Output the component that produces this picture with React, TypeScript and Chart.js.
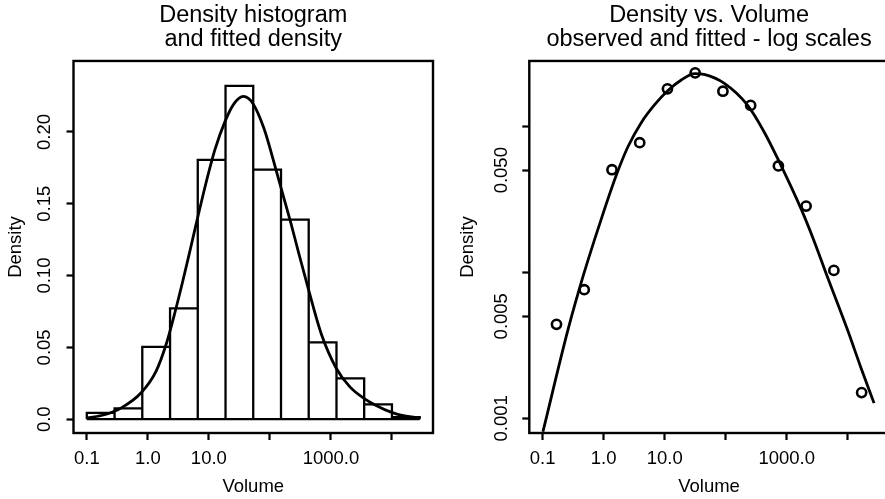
import React, { useEffect, useRef } from "react";
import { Chart, registerables } from "chart.js";

Chart.register(...registerables);

// ---- data (x positions are log10(Volume)) ----
const binEdgesLog10 = [-1, -0.545, -0.091, 0.364, 0.818, 1.273, 1.727, 2.182, 2.636, 3.091, 3.545, 4.0, 4.455];
const observedDensity = [0.0044, 0.0076, 0.0504, 0.0772, 0.1805, 0.232, 0.1738, 0.139, 0.0535, 0.0284, 0.0103, 0.0015];

const fitLeftLog10 = [-1.0, -0.71, -0.434, -0.11, 0.136, 0.303, 0.439, 0.569, 0.697, 0.82, 0.959, 1.098, 1.267, 1.41, 1.566, 1.726, 1.902, 2.098, 2.344, 2.467, 2.631, 2.841, 3.087, 3.311, 3.541, 3.716, 4.005, 4.23, 4.454];
const fitLeftDensity = [0.0009, 0.0031, 0.0079, 0.0184, 0.0335, 0.0525, 0.0735, 0.0955, 0.1185, 0.141, 0.1655, 0.1875, 0.2075, 0.2195, 0.2247, 0.2195, 0.2025, 0.174, 0.1365, 0.1165, 0.0905, 0.0595, 0.0355, 0.0225, 0.0145, 0.0101, 0.0046, 0.0021, 0.0009];

const fitRightLog10 = [-0.995, -0.585, -0.339, -0.148, 0.016, 0.207, 0.398, 0.616, 0.836, 1.054, 1.272, 1.492, 1.644, 1.972, 2.354, 2.628, 2.874, 3.23, 3.434, 3.666, 3.993, 4.213, 4.431];
const fitRightDensity = [0.000809, 0.00403, 0.00933, 0.0168, 0.0272, 0.0462, 0.0724, 0.1059, 0.1406, 0.1758, 0.2075, 0.2291, 0.2265, 0.1972, 0.14, 0.0918, 0.0575, 0.0275, 0.017, 0.00933, 0.00407, 0.00224, 0.00127];

const xTickLog10 = [-1, 0, 1, 2, 3, 4];
const xTickLabels = ["0.1", "1.0", "10.0", "", "1000.0", ""];
const leftYTicks = [0, 0.05, 0.1, 0.15, 0.2];
const leftYTickLabels = ["0.0", "0.05", "0.10", "0.15", "0.20"];
const rightYTicks = [0.001, 0.005, 0.01, 0.05, 0.1];
const rightYTickLabels = ["0.001", "0.005", "", "0.050", ""];

const leftTitle = ["Density histogram", "and fitted density"];
const rightTitle = ["Density vs. Volume", "observed and fitted - log scales"];
const xAxisTitle = "Volume";
const yAxisTitle = "Density";

const X_MIN = -1.2182;
const X_MAX = 4.6727;

const FAMILY = "'Liberation Sans', Arial, Helvetica, sans-serif";
const BLACK = "#000";

const framePlugin = {
  id: "frameBox",
  afterDraw(chart: any) {
    const { ctx, chartArea: a } = chart;
    ctx.save();
    ctx.strokeStyle = BLACK;
    ctx.lineWidth = 2.4;
    ctx.strokeRect(a.left, a.top, a.right - a.left, a.bottom - a.top);
    ctx.restore();
  },
};

const tickGrid = {
  display: true,
  drawOnChartArea: false,
  drawTicks: true,
  tickLength: 7,
  tickWidth: 2.2,
  tickColor: BLACK,
  offset: false,
};

function xScale() {
  return {
    type: "linear",
    min: X_MIN,
    max: X_MAX,
    offset: false,
    afterBuildTicks: (s: any) => {
      s.ticks = xTickLog10.map((v) => ({ value: v }));
    },
    afterFit: (s: any) => {
      s.height = 66;
    },
    ticks: {
      autoSkip: false,
      minRotation: 0,
      maxRotation: 0,
      padding: 8,
      color: BLACK,
      font: { family: FAMILY, size: 18.5 },
      callback: (_v: any, i: number) => xTickLabels[i],
    },
    grid: tickGrid,
    border: { display: false },
    title: {
      display: true,
      text: xAxisTitle,
      color: BLACK,
      font: { family: FAMILY, size: 18.5, lineHeight: 1.2 },
      padding: { top: 0, bottom: 1 },
    },
  };
}

function titleOpts(text: string[]) {
  return {
    display: true,
    text,
    fullSize: false,
    color: BLACK,
    font: { family: FAMILY, size: 23.5, weight: "normal", lineHeight: 0.98 },
    padding: { top: 4.5, bottom: 10.4 },
  };
}

function yTitle(padTop: number) {
  return {
    display: true,
    text: yAxisTitle,
    color: BLACK,
    font: { family: FAMILY, size: 18.5, lineHeight: 1.2 },
    padding: { top: padTop, bottom: 0 },
  };
}

export default function App() {
  const leftRef = useRef<HTMLCanvasElement | null>(null);
  const rightRef = useRef<HTMLCanvasElement | null>(null);

  useEffect(() => {
    // histogram outline built from bin edges and densities
    const outline: { x: number; y: number }[] = [{ x: binEdgesLog10[0], y: 0 }];
    observedDensity.forEach((h, i) => {
      outline.push({ x: binEdgesLog10[i], y: h });
      outline.push({ x: binEdgesLog10[i + 1], y: h });
      outline.push({ x: binEdgesLog10[i + 1], y: 0 });
    });
    const baseline = [
      { x: binEdgesLog10[0], y: 0 },
      { x: binEdgesLog10[binEdgesLog10.length - 1], y: 0 },
    ];
    const binMids = observedDensity.map((_h, i) => (binEdgesLog10[i] + binEdgesLog10[i + 1]) / 2);

    const histStyle = {
      type: "line",
      borderColor: BLACK,
      borderWidth: 2.3,
      pointRadius: 0,
      tension: 0,
      fill: false,
      borderJoinStyle: "miter",
      order: 1,
    };

    const left = new Chart(leftRef.current as HTMLCanvasElement, {
      type: "line",
      data: {
        datasets: [
          {
            type: "line",
            data: fitLeftLog10.map((x, i) => ({ x, y: fitLeftDensity[i] })),
            borderColor: BLACK,
            borderWidth: 2.8,
            pointRadius: 0,
            fill: false,
            cubicInterpolationMode: "monotone",
            order: 0,
          } as any,
          { ...histStyle, data: outline } as any,
          { ...histStyle, data: baseline } as any,
        ],
      },
      options: {
        animation: false,
        responsive: false,
        layout: { padding: { left: 0, right: 9, top: 0, bottom: 0 } },
        plugins: {
          legend: { display: false },
          tooltip: { enabled: false },
          title: titleOpts(leftTitle) as any,
        },
        scales: {
          x: xScale() as any,
          y: {
            type: "linear",
            min: -0.0096,
            max: 0.2494,
            afterBuildTicks: (s: any) => {
              s.ticks = leftYTicks.map((v) => ({ value: v }));
            },
            afterFit: (s: any) => {
              s.width = 73.5;
            },
            ticks: {
              minRotation: 90,
              maxRotation: 90,
              crossAlign: "center",
              padding: 3.5,
              color: BLACK,
              font: { family: FAMILY, size: 18.5 },
              callback: (_v: any, i: number) => leftYTickLabels[i],
            },
            grid: tickGrid,
            border: { display: false },
            title: yTitle(4.7),
          } as any,
        },
      },
      plugins: [framePlugin],
    });

    const right = new Chart(rightRef.current as HTMLCanvasElement, {
      type: "line",
      data: {
        datasets: [
          {
            type: "line",
            data: fitRightLog10.map((x, i) => ({ x, y: fitRightDensity[i] })),
            borderColor: BLACK,
            borderWidth: 2.8,
            pointRadius: 0,
            fill: false,
            cubicInterpolationMode: "monotone",
          } as any,
          {
            type: "line",
            data: binMids.map((x, i) => ({ x, y: observedDensity[i] })),
            showLine: false,
            pointRadius: 4.6,
            pointBorderWidth: 2.6,
            pointBorderColor: BLACK,
            pointBackgroundColor: "rgba(0,0,0,0)",
            pointStyle: "circle",
          } as any,
        ],
      },
      options: {
        animation: false,
        responsive: false,
        layout: { padding: { left: 0, right: 13.2, top: 0, bottom: 0 } },
        plugins: {
          legend: { display: false },
          tooltip: { enabled: false },
          title: titleOpts(rightTitle) as any,
        },
        scales: {
          x: xScale() as any,
          y: {
            type: "logarithmic",
            min: 0.000793,
            max: 0.2801,
            afterBuildTicks: (s: any) => {
              s.ticks = rightYTicks.map((v) => ({ value: v }));
            },
            afterFit: (s: any) => {
              s.width = 87.3;
            },
            ticks: {
              minRotation: 90,
              maxRotation: 90,
              crossAlign: "center",
              padding: -3,
              color: BLACK,
              font: { family: FAMILY, size: 18.5 },
              callback: (_v: any, i: number) => rightYTickLabels[i],
            },
            grid: tickGrid,
            border: { display: false },
            title: yTitle(14.7),
          } as any,
        },
      },
      plugins: [framePlugin],
    });

    return () => {
      left.destroy();
      right.destroy();
    };
  }, []);

  return (
    <div
      style={{
        position: "absolute",
        left: 0,
        top: 0,
        width: 885,
        height: 499,
        overflow: "hidden",
        background: "#fff",
      }}
    >
      <canvas
        ref={leftRef}
        width={442}
        height={499}
        style={{ position: "absolute", left: 0, top: 0, width: 442, height: 499 }}
      />
      <canvas
        ref={rightRef}
        width={460}
        height={499}
        style={{ position: "absolute", left: 442, top: 0, width: 460, height: 499 }}
      />
    </div>
  );
}
